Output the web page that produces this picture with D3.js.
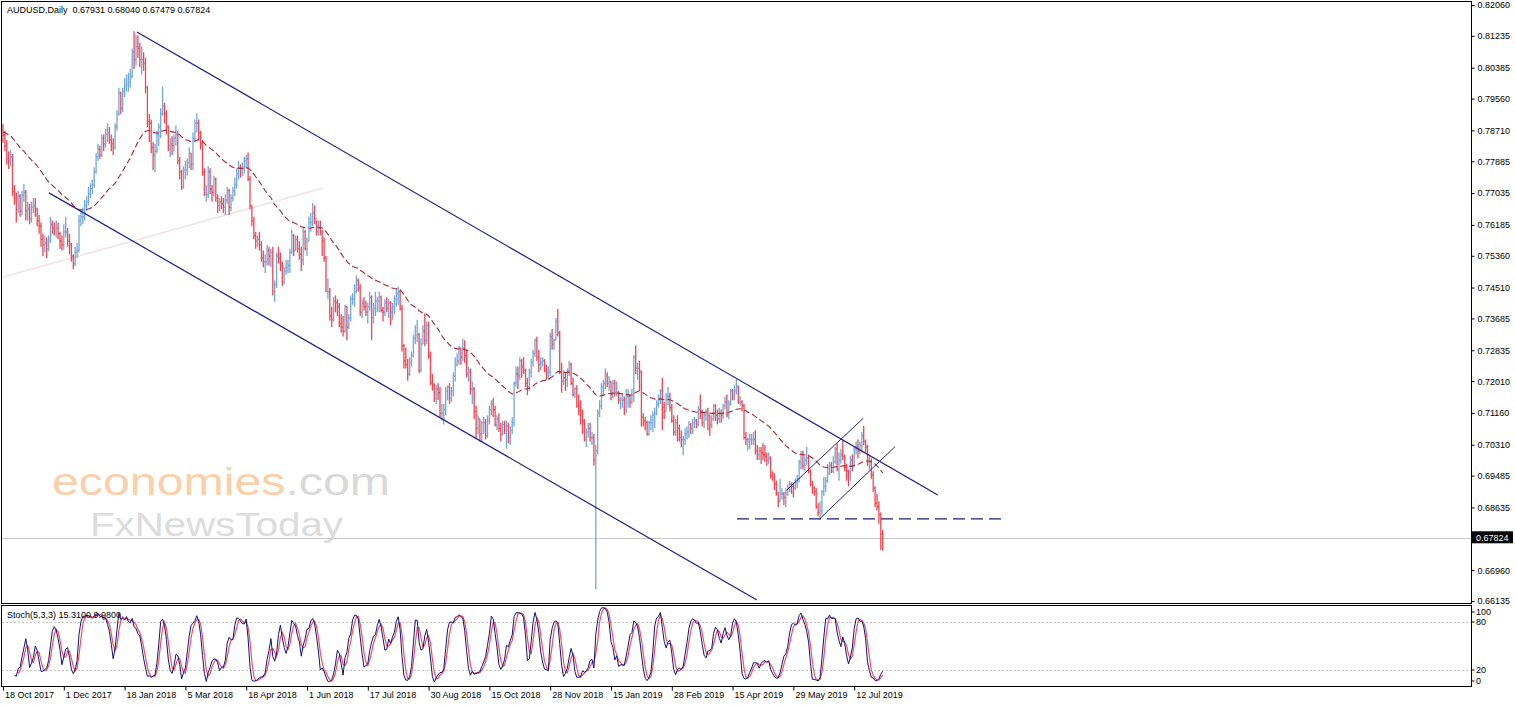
<!DOCTYPE html>
<html>
<head>
<meta charset="utf-8">
<script src="https://cdn.jsdelivr.net/npm/d3@7/dist/d3.min.js"></script>
<style>
body { margin: 0; background: #fff; }
svg { display: block; }
text { font-family: "Liberation Sans", Arial, sans-serif; }
</style>
</head>
<body>
<svg width="1515" height="706"></svg>
<script>
var width = 1515,
    height = 706;

var symbol = "AUDUSD,Daily";

// daily bars in pips (0.0001), 18 Oct 2017 .. 2 Aug 2019, one line per week
// open of each bar = close of the bar before
var firstOpen = 7872;
var closes = [
    7858, 7830, 7795,
    7790, 7800, 7708, 7690, 7660,
    7695, 7655, 7698, 7705, 7655,
    7660, 7635, 7665, 7670, 7660,
    7630, 7615, 7580, 7565, 7570,
    7555, 7578, 7620, 7610, 7605,
    7610, 7595, 7575, 7565, 7600,
    7600, 7575, 7565, 7535, 7515,
    7545, 7550, 7630, 7640, 7640,
    7670, 7680, 7700, 7715, 7725,
    7760, 7800, 7820, 7805,
    7850, 7835, 7860, 7865,
    7845, 7835, 7825, 7880, 7915,
    7970, 7930, 7975, 7990, 7995,
    8000, 8015, 8080, 8060, 8095,
    8090, 8060, 8060, 8050, 7985,
    7895, 7890, 7825, 7805, 7815,
    7860, 7880, 7915, 7935, 7915,
    7880, 7830, 7835, 7830, 7850,
    7860, 7790, 7760, 7720, 7765,
    7765, 7785, 7810, 7780, 7850,
    7890, 7890, 7865, 7835, 7760,
    7700, 7700, 7760, 7715, 7705,
    7740, 7690, 7670, 7680, 7675,
    7665, 7685, 7710, 7665, 7690,
    7710, 7725, 7755, 7770, 7755,
    7770, 7790, 7795, 7740, 7670,
    7630, 7590, 7575, 7580, 7565,
    7530, 7520, 7520, 7550, 7535,
    7545, 7440, 7460, 7535, 7530,
    7510, 7465, 7495, 7505, 7510,
    7545, 7590, 7550, 7580, 7555,
    7540, 7525, 7600, 7555, 7575,
    7625, 7625, 7650, 7635, 7600,
    7610, 7600, 7575, 7530, 7440,
    7440, 7375, 7365, 7415, 7410,
    7400, 7355, 7345, 7335, 7400,
    7345, 7370, 7420, 7420, 7440,
    7470, 7450, 7385, 7410, 7400,
    7385, 7400, 7425, 7370, 7395,
    7415, 7415, 7425, 7390, 7385,
    7410, 7395, 7410, 7385, 7400,
    7420, 7435, 7440, 7395, 7295,
    7255, 7245, 7220, 7250, 7270,
    7315, 7325, 7325, 7230, 7300,
    7335, 7310, 7350, 7270, 7195,
    7190, 7155, 7180, 7170, 7115,
    7115, 7125, 7175, 7185, 7155,
    7175, 7215, 7245, 7255, 7290,
    7265, 7290, 7270, 7220, 7225,
    7180, 7180, 7120, 7075, 7100,
    7060, 7090, 7090, 7055, 7095,
    7125, 7140, 7125, 7085, 7100,
    7075, 7060, 7085, 7070, 7080,
    7050, 7070, 7090, 7195, 7220,
    7215, 7255, 7240, 7230, 7195,
    7185, 7225, 7250, 7275, 7310,
    7265, 7245, 7250, 7255, 7230,
    7225, 7225, 7320, 7300, 7310,
    7360, 7330, 7225, 7200, 7210,
    7205, 7230, 7245, 7195, 7165,
    7180, 7135, 7120, 7115, 7095,
    7045, 7065, 7075, 7050,
    7050, 6990, 7015, 7115,
    7135, 7185, 7195, 7215, 7195,
    7200, 7165, 7195, 7170, 7170,
    7150, 7150, 7150, 7125, 7160,
    7160, 7145, 7165, 7265, 7235,
    7235, 7225, 7105, 7095, 7090,
    7060, 7090, 7090, 7110, 7115,
    7140, 7155, 7175, 7130, 7120,
    7160, 7160, 7130, 7095, 7065,
    7090, 7075, 7050, 7045, 7045,
    7060, 7065, 7085, 7075, 7090,
    7095, 7085, 7125, 7120, 7090,
    7110, 7120, 7110, 7085, 7100,
    7135, 7110, 7100, 7115, 7110,
    7135, 7145, 7110, 7140, 7175,
    7160, 7175, 7185, 7145, 7145,
    7135, 7050, 7045, 7045, 7045,
    7045, 7045, 7015, 7005, 7015,
    7010, 7005, 7000, 6990, 6995,
    6950, 6945, 6925, 6900, 6880,
    6900, 6900, 6890, 6900, 6915,
    6925, 6920, 6915, 6930, 6940,
    6985, 7005, 6975, 6990, 6995,
    6960, 6925, 6915, 6905, 6865,
    6850, 6855, 6905, 6920, 6935,
    6955, 6975, 6960, 6985, 7020,
    6965, 6990, 7005, 7000, 6970,
    6960, 6955, 6990, 6975, 7020,
    7025, 7015, 7030, 7055, 7040,
    7025, 6985, 6985, 6950, 6915,
    6875, 6865, 6845, 6793.1, 6782.4
];
var highs = [
    7888, 7870, 7845,
    7815, 7820, 7808, 7725, 7705,
    7710, 7700, 7710, 7728, 7712,
    7680, 7675, 7680, 7690, 7690,
    7665, 7645, 7625, 7595, 7590,
    7585, 7590, 7640, 7630, 7625,
    7630, 7625, 7600, 7590, 7620,
    7640, 7610, 7595, 7570, 7540,
    7560, 7570, 7645, 7660, 7665,
    7685, 7695, 7720, 7730, 7740,
    7772, 7810, 7835, 7830,
    7860, 7860, 7875, 7890,
    7880, 7860, 7850, 7890, 7925,
    7985, 7975, 7985, 8010, 8020,
    8025, 8035, 8090, 8136, 8125,
    8125, 8105, 8095, 8080, 8065,
    7990, 7915, 7900, 7840, 7835,
    7870, 7890, 7930, 7988, 7945,
    7925, 7885, 7850, 7855, 7860,
    7885, 7870, 7800, 7765, 7775,
    7790, 7795, 7825, 7810, 7865,
    7900, 7917, 7900, 7870, 7845,
    7770, 7725, 7775, 7770, 7725,
    7750, 7745, 7700, 7690, 7695,
    7690, 7700, 7720, 7715, 7700,
    7720, 7745, 7770, 7790, 7780,
    7785, 7800, 7805, 7812, 7750,
    7670, 7640, 7600, 7590, 7600,
    7575, 7550, 7540, 7565, 7560,
    7555, 7560, 7470, 7545, 7560,
    7545, 7520, 7505, 7525, 7525,
    7555, 7605, 7595, 7590, 7590,
    7575, 7560, 7610, 7605, 7585,
    7640, 7650, 7677, 7670, 7630,
    7630, 7630, 7605, 7585, 7535,
    7475, 7450, 7400, 7425, 7430,
    7420, 7410, 7380, 7375, 7405,
    7400, 7380, 7430, 7435, 7460,
    7484, 7475, 7460, 7420, 7425,
    7415, 7410, 7440, 7430, 7410,
    7440, 7425, 7440, 7430, 7400,
    7420, 7425, 7420, 7415, 7410,
    7430, 7450, 7453, 7445, 7405,
    7300, 7290, 7260, 7265, 7280,
    7325, 7350, 7365, 7330, 7315,
    7350, 7382, 7360, 7360, 7280,
    7220, 7195, 7190, 7195, 7185,
    7140, 7140, 7185, 7190, 7195,
    7185, 7225, 7265, 7275, 7295,
    7290, 7315, 7310, 7285, 7240,
    7235, 7200, 7185, 7135, 7110,
    7100, 7095, 7105, 7100, 7110,
    7135, 7150, 7155, 7135, 7110,
    7115, 7090, 7095, 7095, 7095,
    7090, 7080, 7105, 7200, 7240,
    7240, 7265, 7260, 7265, 7235,
    7210, 7235, 7260, 7285, 7315,
    7320, 7285, 7265, 7265, 7260,
    7245, 7240, 7330, 7340, 7315,
    7370, 7394, 7335, 7250, 7230,
    7225, 7235, 7255, 7250, 7210,
    7185, 7190, 7165, 7150, 7125,
    7100, 7075, 7090, 7090,
    7065, 7060, 7030, 7125,
    7150, 7195, 7205, 7235, 7225,
    7215, 7200, 7205, 7205, 7200,
    7175, 7160, 7165, 7160, 7180,
    7180, 7165, 7180, 7270, 7296,
    7250, 7255, 7230, 7115, 7105,
    7095, 7095, 7110, 7120, 7130,
    7150, 7165, 7180, 7210, 7145,
    7170, 7185, 7170, 7140, 7110,
    7100, 7110, 7085, 7070, 7055,
    7075, 7080, 7095, 7090, 7100,
    7105, 7100, 7135, 7165, 7125,
    7120, 7125, 7130, 7110, 7110,
    7140, 7140, 7125, 7130, 7125,
    7140, 7160, 7165, 7150, 7180,
    7180, 7190, 7206, 7190, 7160,
    7150, 7140, 7065, 7050, 7060,
    7060, 7065, 7070, 7030, 7025,
    7025, 7035, 7030, 7010, 7010,
    7000, 6960, 6955, 6935, 6905,
    6940, 6915, 6905, 6915, 6925,
    6935, 6930, 6930, 6940, 6950,
    6990, 7015, 7015, 7000, 7025,
    7005, 6965, 6935, 6920, 6915,
    6875, 6880, 6910, 6945, 6945,
    6980, 6985, 6985, 7000, 7025,
    7035, 7010, 7020, 7045, 7005,
    6980, 6965, 7000, 7005, 7025,
    7040, 7045, 7040, 7065, 7082,
    7045, 7030, 7005, 6995, 6960,
    6920, 6900, 6880, 6850, 6804.0
];
var lows = [
    7838, 7815, 7780,
    7768, 7775, 7695, 7672, 7625,
    7650, 7640, 7645, 7680, 7630,
    7630, 7620, 7625, 7650, 7640,
    7615, 7595, 7560, 7535, 7545,
    7530, 7548, 7570, 7595, 7590,
    7585, 7580, 7555, 7550, 7552,
    7585, 7560, 7540, 7520, 7500,
    7508, 7530, 7545, 7615, 7620,
    7630, 7655, 7670, 7690, 7700,
    7718, 7755, 7790, 7795,
    7800, 7815, 7825, 7840,
    7835, 7815, 7805, 7820, 7870,
    7910, 7915, 7920, 7960, 7975,
    7975, 7985, 8010, 8035, 8045,
    8065, 8040, 8020, 8030, 7970,
    7880, 7840, 7810, 7765, 7760,
    7810, 7830, 7850, 7910, 7890,
    7860, 7815, 7800, 7805, 7815,
    7830, 7780, 7740, 7712, 7715,
    7740, 7750, 7770, 7765, 7765,
    7840, 7865, 7845, 7820, 7750,
    7695, 7680, 7690, 7700, 7680,
    7695, 7680, 7650, 7655, 7660,
    7650, 7645, 7675, 7645, 7655,
    7680, 7695, 7715, 7740, 7745,
    7750, 7755, 7770, 7735, 7660,
    7615, 7580, 7555, 7560, 7550,
    7520, 7505, 7490, 7510, 7510,
    7505, 7430, 7413, 7450, 7515,
    7495, 7455, 7460, 7485, 7490,
    7490, 7540, 7535, 7550, 7545,
    7525, 7495, 7510, 7550, 7535,
    7575, 7600, 7615, 7620, 7590,
    7590, 7590, 7535, 7520, 7440,
    7420, 7362, 7345, 7360, 7385,
    7375, 7345, 7330, 7320, 7330,
    7310, 7340, 7360, 7405, 7400,
    7435, 7440, 7375, 7370, 7390,
    7375, 7355, 7390, 7310, 7355,
    7375, 7385, 7385, 7385, 7360,
    7375, 7385, 7370, 7350, 7365,
    7380, 7400, 7405, 7390, 7280,
    7235, 7235, 7202, 7215, 7240,
    7265, 7300, 7305, 7222, 7225,
    7300, 7295, 7300, 7260, 7190,
    7175, 7145, 7140, 7150, 7105,
    7095, 7085, 7110, 7150, 7140,
    7145, 7160, 7200, 7240, 7245,
    7245, 7255, 7250, 7210, 7200,
    7165, 7140, 7100, 7050, 7060,
    7040, 7040, 7060, 7045, 7050,
    7085, 7110, 7105, 7080, 7070,
    7065, 7040, 7055, 7060, 7020,
    7035, 7030, 7060, 7080, 7185,
    7180, 7205, 7210, 7220, 7185,
    7164, 7175, 7210, 7240, 7265,
    7255, 7225, 7230, 7240, 7225,
    7205, 7205, 7215, 7285, 7285,
    7310, 7320, 7220, 7170, 7190,
    7175, 7185, 7215, 7190, 7160,
    7155, 7130, 7110, 7085, 7060,
    7040, 7025, 7050, 7040,
    7030, 6975, 6645, 7005,
    7105, 7125, 7165, 7180, 7185,
    7175, 7150, 7155, 7160, 7160,
    7140, 7125, 7130, 7110, 7115,
    7130, 7130, 7140, 7145, 7220,
    7205, 7175, 7080, 7080, 7070,
    7055, 7055, 7070, 7065, 7075,
    7110, 7130, 7140, 7070, 7100,
    7120, 7135, 7120, 7090, 7055,
    7055, 7040, 7040, 7025, 7003,
    7030, 7045, 7050, 7060, 7060,
    7075, 7075, 7080, 7100, 7080,
    7075, 7095, 7070, 7055, 7075,
    7095, 7095, 7085, 7090, 7090,
    7100, 7125, 7105, 7100, 7135,
    7150, 7150, 7165, 7140, 7135,
    7120, 7045, 7030, 7015, 7020,
    7030, 7030, 7005, 6990, 6990,
    6980, 6990, 6985, 6975, 6980,
    6940, 6935, 6910, 6895, 6864,
    6880, 6885, 6870, 6865, 6895,
    6905, 6900, 6890, 6910, 6915,
    6930, 6965, 6965, 6960, 6975,
    6955, 6920, 6900, 6895, 6860,
    6840, 6832, 6845, 6895, 6905,
    6930, 6950, 6955, 6955, 6980,
    6960, 6935, 6980, 6990, 6960,
    6935, 6920, 6935, 6960, 6970,
    7005, 6995, 7005, 7010, 7030,
    7010, 6975, 6965, 6940, 6905,
    6865, 6855, 6820, 6750, 6747.9
];

// moving average (EMA 50), value where the line starts on the first bar
var maPeriod = 50;
var maStart = 7866;

// price scale labels (pips)
var priceTicks = [8206, 8123.5, 8038.5, 7956, 7871, 7788.5, 7703.5, 7618.5, 7536, 7451,
    7368.5, 7283.5, 7201, 7116, 7031, 6948.5, 6863.5, 6696, 6613.5];
var priceMin = 6613.5,
    priceMax = 8206;

// one time label every 32 bars
var dateStep = 32;
var dateLabels = ["18 Oct 2017", "1 Dec 2017", "18 Jan 2018", "5 Mar 2018", "18 Apr 2018",
    "1 Jun 2018", "17 Jul 2018", "30 Aug 2018", "15 Oct 2018", "28 Nov 2018",
    "15 Jan 2019", "28 Feb 2019", "15 Apr 2019", "29 May 2019", "12 Jul 2019"];

var stochText = "Stoch(5,3,3) 15.3100 9.9800";
var stochLevels = [80, 20];
var stochLabels = [100, 80, 20, 0];

// drawn objects: [bar index, price in pips]
var channelTop = [[70.5, 8134], [492, 6897]];
var channelBottom = [[24.2, 7704], [396.8, 6616]];
var oldTrend = [[0, 7479], [168.4, 7717]];
var riseLow = [[412.5, 6910], [452.8, 7102]];
var riseHigh = [[430, 6834], [469.5, 7026]];
var support = [[386.3, 6833], [525.8, 6833]];

var n = closes.length;
var opens = closes.map(function (c, i) {
    return i === 0 ? firstOpen : closes[i - 1];
});

var svg = d3.select("svg");

var mainTop = 1.5, mainBottom = 603.5, axisX = 1471.5;
var subTop = 605.5, subBottom = 686.5;

var x = d3.scaleLinear().domain([0, n - 1]).range([3, 882.7]);
var y = d3.scaleLinear().domain([priceMin, priceMax]).range([601, 5]);
var ys = d3.scaleLinear().domain([0, 100]).range([686, 606]);

svg.append("defs").append("clipPath").attr("id", "mainclip")
    .append("rect").attr("x", 2).attr("y", 2).attr("width", axisX - 2).attr("height", mainBottom - 2);
svg.select("defs").append("clipPath").attr("id", "subclip")
    .append("rect").attr("x", 2).attr("y", subTop).attr("width", axisX - 2).attr("height", subBottom - subTop);

// watermark
var wm = svg.append("g").style("font-family", "'Liberation Sans', Arial, sans-serif");
wm.append("text").attr("x", 52).attr("y", 495).attr("font-size", 39)
    .attr("textLength", 338).attr("lengthAdjust", "spacingAndGlyphs")
    .call(function (t) {
        t.append("tspan").attr("fill", "#f9d0ab").text("economies");
        t.append("tspan").attr("fill", "#d9d9d9").text(".com");
    });
wm.append("text").attr("x", 90).attr("y", 536).attr("font-size", 34)
    .attr("textLength", 253).attr("lengthAdjust", "spacingAndGlyphs")
    .attr("fill", "#dcdcdc").text("FxNewsToday");

var main = svg.append("g").attr("clip-path", "url(#mainclip)");

function linePoints(pts) {
    return d3.line()
        .x(function (d) { return x(d[0]); })
        .y(function (d) { return y(d[1]); })(pts);
}

// faint old trend line
main.append("path").attr("d", linePoints(oldTrend))
    .attr("stroke", "#f0e2e2").attr("stroke-width", 1.5).attr("fill", "none");

// current price line
main.append("line")
    .attr("x1", 0).attr("x2", axisX)
    .attr("y1", Math.round(y(closes[n - 1])) + 0.5).attr("y2", Math.round(y(closes[n - 1])) + 0.5)
    .attr("stroke", "#c8c8c8").attr("stroke-width", 1);

// bars
main.append("g").selectAll("path")
    .data(d3.range(n))
    .join("path")
    .attr("d", function (i) {
        var xi = x(i);
        return "M" + xi + "," + y(highs[i]) + "V" + y(lows[i]) +
            "M" + (xi - 1) + "," + y(opens[i]) + "H" + xi +
            "M" + xi + "," + y(closes[i]) + "H" + (xi + 1);
    })
    .attr("fill", "none")
    .attr("stroke-width", 1.3)
    .attr("stroke", function (i) {
        return closes[i] >= opens[i] ? "#74a6d8" : "#ee4652";
    });

// moving average
var ma = [];
var alpha = 2 / (maPeriod + 1);
closes.forEach(function (c, i) {
    ma.push(i === 0 ? maStart : ma[i - 1] + alpha * (c - ma[i - 1]));
});
main.append("path")
    .attr("d", d3.line()
        .x(function (d, i) { return x(i); })
        .y(function (d) { return y(d); })(ma))
    .attr("fill", "none")
    .attr("stroke", "#a3262c")
    .attr("stroke-width", 1.1)
    .attr("stroke-dasharray", "6,3");

// drawn objects
[channelTop, channelBottom].forEach(function (pts) {
    main.append("path").attr("d", linePoints(pts))
        .attr("stroke", "#1e1e82").attr("stroke-width", 1.2).attr("fill", "none");
});
[riseLow, riseHigh].forEach(function (pts) {
    main.append("path").attr("d", linePoints(pts))
        .attr("stroke", "#23238f").attr("stroke-width", 1).attr("fill", "none");
});
main.append("path").attr("d", linePoints(support))
    .attr("stroke", "#1e1e6e").attr("stroke-width", 1.4).attr("fill", "none")
    .attr("stroke-dasharray", "12,6");

// header
var last = n - 1;
function px(v) { return (v / 10000).toFixed(5); }
svg.append("text").attr("x", 7).attr("y", 13).attr("font-size", 9).attr("fill", "#000")
    .attr("xml:space", "preserve")
    .text(symbol + "  " + px(opens[last]) + " " + px(highs[last]) + " " + px(lows[last]) + " " + px(closes[last]));

// stochastic 5,3,3
var num = [], den = [], stochK = [], stochD = [];
for (var i = 0; i < n; i++) {
    if (i >= 4) {
        var hh = d3.max(highs.slice(i - 4, i + 1));
        var ll = d3.min(lows.slice(i - 4, i + 1));
        num[i] = closes[i] - ll;
        den[i] = hh - ll;
    }
    if (i >= 6) {
        var sn = num[i] + num[i - 1] + num[i - 2];
        var sd = den[i] + den[i - 1] + den[i - 2];
        stochK[i] = sd === 0 ? 100 : sn / sd * 100;
    }
    if (i >= 8) {
        stochD[i] = (stochK[i] + stochK[i - 1] + stochK[i - 2]) / 3;
    }
}

var sub = svg.append("g").attr("clip-path", "url(#subclip)");
sub.selectAll("line.level")
    .data(stochLevels)
    .join("line")
    .attr("class", "level")
    .attr("x1", 2).attr("x2", axisX)
    .attr("y1", function (d) { return Math.round(ys(d)) + 0.5; })
    .attr("y2", function (d) { return Math.round(ys(d)) + 0.5; })
    .attr("stroke", "#c4c4c4").attr("stroke-dasharray", "2,2");

function stochLine(arr) {
    return d3.line()
        .defined(function (d) { return d !== undefined; })
        .x(function (d, i) { return x(i); })
        .y(function (d) { return ys(d); })(d3.range(n).map(function (i) { return arr[i]; }));
}
sub.append("path").attr("d", stochLine(stochD))
    .attr("fill", "none").attr("stroke", "#f0505a").attr("stroke-width", 1.2);
sub.append("path").attr("d", stochLine(stochK))
    .attr("fill", "none").attr("stroke", "#10107a").attr("stroke-width", 1);

svg.append("text").attr("x", 7).attr("y", 618).attr("font-size", 9).attr("fill", "#000")
    .text(stochText);

// frames
svg.append("rect").attr("x", 1.5).attr("y", mainTop).attr("width", axisX - 1.5).attr("height", mainBottom - mainTop)
    .attr("fill", "none").attr("stroke", "#000");
svg.append("rect").attr("x", 1.5).attr("y", subTop).attr("width", axisX - 1.5).attr("height", subBottom - subTop)
    .attr("fill", "none").attr("stroke", "#000");

// price axis
var yAxis = svg.append("g")
    .attr("transform", "translate(" + axisX + ",0)")
    .call(d3.axisRight(y).tickValues(priceTicks).tickSize(3).tickPadding(3)
        .tickFormat(function (d) { return px(d); }));
yAxis.select(".domain").remove();
yAxis.selectAll("text").attr("font-size", 9).attr("font-family", "Liberation Sans, Arial, sans-serif").attr("fill", "#000");

// current price box
var cy = y(closes[last]);
svg.append("rect").attr("x", 1472).attr("y", cy - 6.5).attr("width", 41).attr("height", 12).attr("fill", "#000");
svg.append("text").attr("x", 1476).attr("y", cy + 3).attr("font-size", 9).attr("fill", "#fff")
    .text(px(closes[last]));

// stochastic scale
svg.selectAll("text.slabel")
    .data(stochLabels)
    .join("text")
    .attr("class", "slabel")
    .attr("x", 1476)
    .attr("y", function (d) { return Math.min(Math.max(ys(d), 612), 681) + 3; })
    .attr("font-size", 9)
    .text(function (d) { return d; });
svg.selectAll("line.stick")
    .data(stochLabels)
    .join("line")
    .attr("class", "stick")
    .attr("x1", axisX).attr("x2", axisX + 3)
    .attr("y1", function (d) { return Math.min(Math.max(ys(d), 612), 681); })
    .attr("y2", function (d) { return Math.min(Math.max(ys(d), 612), 681); })
    .attr("stroke", "#000");

// time axis
var xAxis = svg.append("g")
    .attr("transform", "translate(0," + subBottom + ")")
    .call(d3.axisBottom(x)
        .tickValues(dateLabels.map(function (d, k) { return k * dateStep; }))
        .tickSize(4)
        .tickFormat(function (d) { return dateLabels[d / dateStep]; }));
xAxis.select(".domain").remove();
xAxis.selectAll("text")
    .attr("text-anchor", "start")
    .attr("x", 1.5)
    .attr("y", 5)
    .attr("font-size", 9)
    .attr("font-family", "Liberation Sans, Arial, sans-serif")
    .attr("fill", "#000");
</script>
</body>
</html>
